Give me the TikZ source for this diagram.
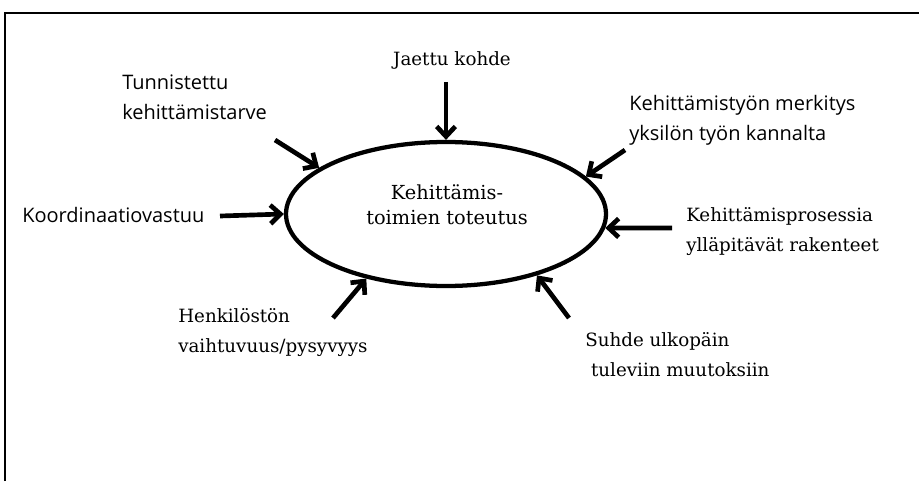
\documentclass[tikz,border=0pt]{standalone}
\usepackage{fontspec}
\setmainfont{DejaVu Serif}
\setsansfont{Open Sans}
\usetikzlibrary{shapes.geometric,arrows.meta}

\begin{document}
\begin{tikzpicture}[x=0.75pt,y=-0.75pt,
		nuoli/.style={line width=3.5pt,-{Straight Barb[length=7.5pt,width=14pt]}},
		serifi/.style={inner sep=0pt,align=left,font={\rmfamily\fontsize{13.7pt}{22.5pt}\selectfont}},
		sans/.style={inner sep=0pt,align=left,font={\sffamily\fontsize{15pt}{22.5pt}\selectfont}},
		kehä/.style={draw,ellipse,line width=3.2pt,minimum width=240pt,minimum height=108pt,inner sep=0pt}]
	\useasboundingbox (0,0) rectangle (919,481);
	% kehys
	\draw[line width=1.5pt] (5,481) -- (5,13) -- (919,13);

	% keskellä
	\node[kehä] (toteutus) at (446,214) {};
	\node[serifi,align=center,font={\rmfamily\fontsize{14.5pt}{18.75pt}\selectfont}] (toteutusteksti) at (447,205) {Kehittämis-\\toimien toteutus};

	% tekijät
	\node[serifi] (jaettu) at (452,60) {Jaettu kohde};
	\node[sans,anchor=west] (tarve) at (122,97) {Tunnistettu\\kehittämistarve};
	\node[sans,anchor=west] (koordinaatio) at (22,215) {Koordinaatiovastuu};
	\node[sans,anchor=west] (merkitys) at (629,120) {Kehittämistyön merkitys\\yksilön työn kannalta};
	\node[serifi,anchor=west] (rakenteet) at (686,232) {Kehittämisprosessia\\ylläpitävät rakenteet};
	\node[serifi,anchor=west] (henkilosto) at (178,333) {Henkilöstön\\vaihtuvuus/pysyvyys};
	\node[serifi,anchor=west] (suhde) at (585,355) {Suhde ulkopäin\\\ tuleviin muutoksiin};

	% nuolten alkupäät
	\coordinate (jaettu-a) at (446,82);
	\coordinate (tarve-a) at (275,140);
	\coordinate (koordinaatio-a) at (220,216);
	\coordinate (merkitys-a) at (625,150);
	\coordinate (rakenteet-a) at (672,228);
	\coordinate (henkilosto-a) at (333,318);
	\coordinate (suhde-a) at (569,318);

	\draw[nuoli] (jaettu-a) -- (toteutus.north);
	\draw[nuoli] (tarve-a) -- (toteutus.160);
	\draw[nuoli] (koordinaatio-a) -- (toteutus.west);
	\draw[nuoli] (merkitys-a) -- (toteutus.15);
	\draw[nuoli] (rakenteet-a) -- (toteutus.-5);
	\draw[nuoli] (henkilosto-a) -- (toteutus.219);
	\draw[nuoli] (suhde-a) -- (toteutus.-34);
\end{tikzpicture}
\end{document}
